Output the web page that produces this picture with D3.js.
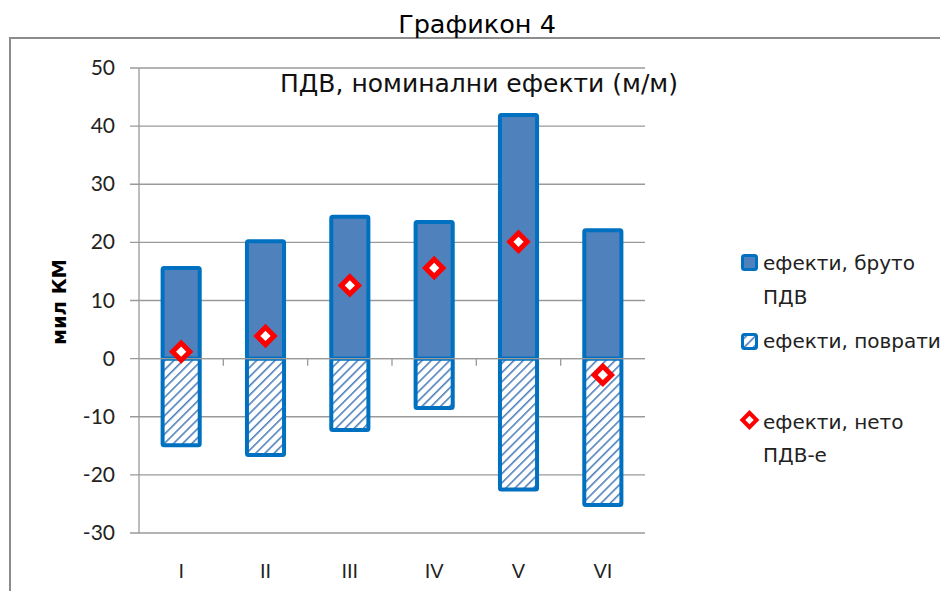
<!DOCTYPE html>
<html>
<head>
<meta charset="utf-8">
<script src="https://cdn.jsdelivr.net/npm/d3@7"></script>
<style>
  body { margin: 0; background: #fff; }
  svg { display: block; }
</style>
</head>
<body>
<svg width="940" height="591"></svg>
<script>
// values (мил КМ)
var categories = ["I", "II", "III", "IV", "V", "VI"];
var bruto = [15.6, 20.2, 24.4, 23.5, 41.9, 22.1];
var povrati = [-14.9, -16.6, -12.3, -8.5, -22.5, -25.2];
var neto = [1.2, 3.9, 12.6, 15.6, 20.1, -2.8];
var yTicks = [50, 40, 30, 20, 10, 0, -10, -20, -30];
var legendLabels = [["ефекти, бруто", "ПДВ"], ["ефекти, поврати"], ["ефекти, нето", "ПДВ-е"]];

var svg = d3.select("svg");
var pLeft = 139, pRight = 645, pTop = 68, pBottom = 533;

var x = d3.scaleBand().domain(categories).range([pLeft, pRight]).paddingInner(0.56).paddingOuter(0.28);
var xc = d3.scaleBand().domain(categories).range([pLeft, pRight]);
var y = d3.scaleLinear().domain([-30, 50]).range([pBottom, pTop]);

var defs = svg.append("defs");
var pat = defs.append("pattern")
  .attr("id", "hatch").attr("patternUnits", "userSpaceOnUse")
  .attr("width", 6.5).attr("height", 6.5)
  .attr("patternTransform", "rotate(45)");
pat.append("rect").attr("width", 6.5).attr("height", 6.5).attr("fill", "#fff");
pat.append("line").attr("x1", 0).attr("y1", 0).attr("x2", 0).attr("y2", 6.5)
  .attr("stroke", "#4F81BD").attr("stroke-width", 3.2);

// outer frame
svg.append("rect").attr("x", 10).attr("y", 38).attr("width", 1000).attr("height", 600)
  .attr("fill", "none").attr("stroke", "#8c8c8c").attr("stroke-width", 2);

svg.append("text").attr("x", 477).attr("y", 33).attr("text-anchor", "middle")
  .style("font-family", "DejaVu Sans").style("font-size", "25.5px").text("Графикон 4");

// gridlines
svg.append("g").selectAll("line").data(yTicks).enter().append("line")
  .attr("x1", pLeft - 9).attr("x2", pRight)
  .attr("y1", d => y(d)).attr("y2", d => y(d))
  .attr("stroke", "#9a9a9a").attr("stroke-width", 1.3);

svg.append("line").attr("x1", pLeft).attr("x2", pLeft).attr("y1", pTop).attr("y2", pBottom)
  .attr("stroke", "#9a9a9a").attr("stroke-width", 1.3);

// small ticks on the zero line between categories
svg.append("g").selectAll("line").data(categories.slice(1)).enter().append("line")
  .attr("x1", d => xc(d)).attr("x2", d => xc(d))
  .attr("y1", y(0)).attr("y2", y(0) + 7)
  .attr("stroke", "#9a9a9a").attr("stroke-width", 1.3);

svg.append("g").selectAll("text").data(yTicks).enter().append("text")
  .attr("x", 115).attr("y", d => y(d) + 7).attr("text-anchor", "end")
  .style("font-family", "Lato").style("font-size", "21px").style("fill", "#222")
  .text(d => d);

svg.append("g").selectAll("text").data(categories).enter().append("text")
  .attr("x", d => xc(d) + xc.bandwidth() / 2).attr("y", 578).attr("text-anchor", "middle")
  .style("font-family", "Liberation Sans").style("font-size", "20px").style("fill", "#222")
  .text(d => d);

svg.append("text").attr("transform", "translate(66,302) rotate(-90)").attr("text-anchor", "middle")
  .style("font-family", "DejaVu Sans").style("font-weight", "bold").style("font-size", "19.5px")
  .text("мил КМ");

svg.append("text").attr("x", 479).attr("y", 92).attr("text-anchor", "middle")
  .style("font-family", "DejaVu Sans").style("font-size", "25px").style("fill", "#111")
  .text("ПДВ, номинални ефекти (м/м)");

// bars
var bars = svg.append("g");
bars.selectAll("rect.pos").data(categories).enter().append("rect")
  .attr("x", d => x(d)).attr("width", x.bandwidth())
  .attr("y", (d, i) => y(bruto[i])).attr("height", (d, i) => y(0) - y(bruto[i]))
  .attr("fill", "#4F81BD").attr("stroke", "#0070C0").attr("stroke-width", 4).attr("rx", 1.5);
bars.selectAll("rect.neg").data(categories).enter().append("rect")
  .attr("x", d => x(d)).attr("width", x.bandwidth())
  .attr("y", y(0)).attr("height", (d, i) => y(povrati[i]) - y(0))
  .attr("fill", "url(#hatch)").attr("stroke", "#0070C0").attr("stroke-width", 4).attr("rx", 1.5);
// zero line over bars
svg.append("line").attr("x1", pLeft).attr("x2", pRight).attr("y1", y(0)).attr("y2", y(0))
  .attr("stroke", "#9a9a9a").attr("stroke-width", 1.3);

var diamond = d3.symbol().type(d3.symbolSquare).size(150);
svg.append("g").selectAll("path").data(categories).enter().append("path")
  .attr("d", diamond)
  .attr("transform", (d, i) => "translate(" + (xc(d) + xc.bandwidth() / 2) + "," + y(neto[i]) + ") rotate(45)")
  .attr("fill", "#fff").attr("stroke", "#FF0000").attr("stroke-width", 5);

// legend
var lg = svg.append("g").attr("transform", "translate(741,0)");
lg.append("rect").attr("x", 1.5).attr("y", 255.5).attr("width", 14).attr("height", 14).attr("rx", 2)
  .attr("fill", "#4F81BD").attr("stroke", "#0070C0").attr("stroke-width", 3);
lg.append("rect").attr("x", 1.5).attr("y", 334.5).attr("width", 14).attr("height", 14).attr("rx", 2)
  .attr("fill", "url(#hatch)").attr("stroke", "#0070C0").attr("stroke-width", 3);
lg.append("path").attr("d", d3.symbol().type(d3.symbolSquare).size(100))
  .attr("transform", "translate(8.5,420) rotate(45)")
  .attr("fill", "#fff").attr("stroke", "#FF0000").attr("stroke-width", 4);
var lineY = [[270, 304], [348], [429, 462]];
legendLabels.forEach(function (lines, i) {
  lines.forEach(function (t, j) {
    lg.append("text").attr("x", 22).attr("y", lineY[i][j])
      .style("font-family", "DejaVu Sans").style("font-size", "20px").style("fill", "#222")
      .text(t);
  });
});
</script>
</body>
</html>
